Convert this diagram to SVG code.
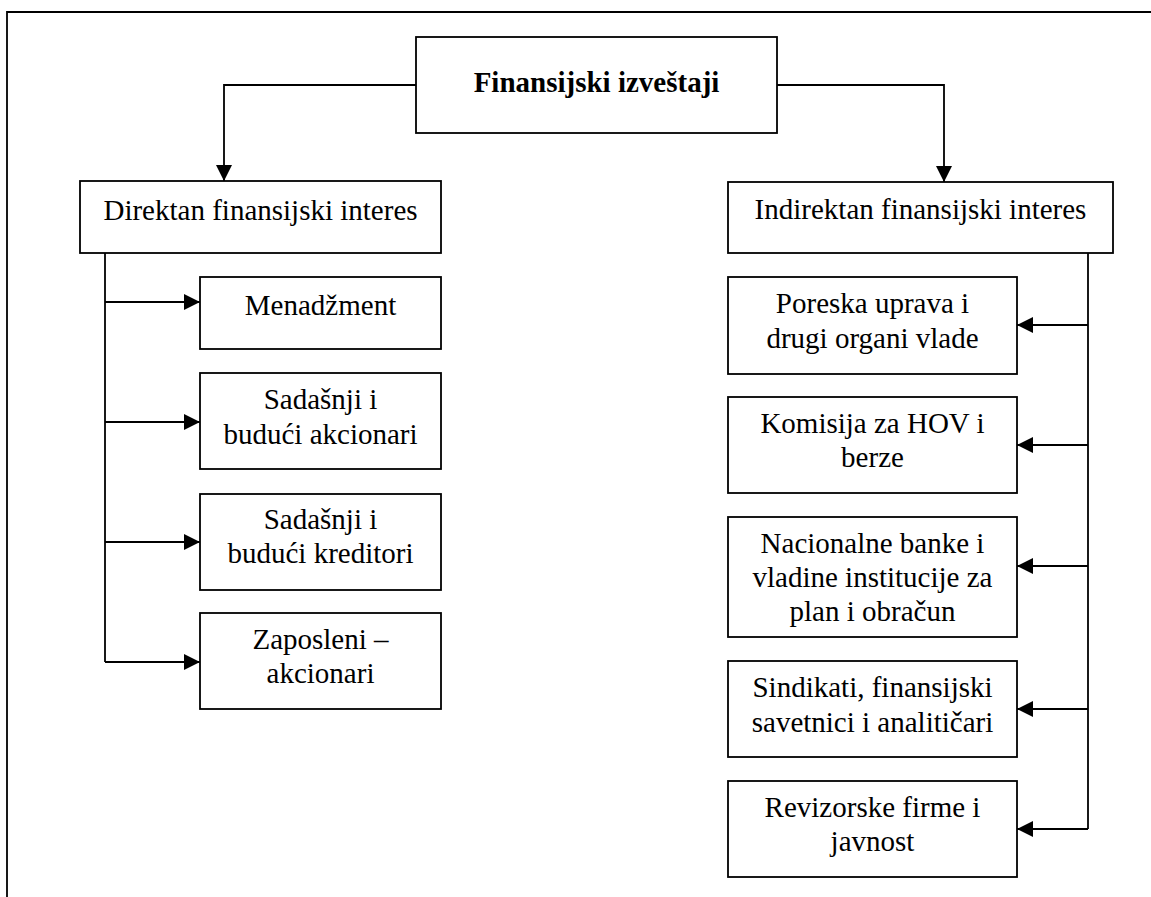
<svg xmlns="http://www.w3.org/2000/svg" width="1151" height="897" viewBox="0 0 1151 897">
<style>
.box{fill:#fff;stroke:#000;stroke-width:1.8}
.ln{fill:none;stroke:#000;stroke-width:1.8}
text{font-family:"Liberation Serif","Times New Roman",serif;font-size:29px;fill:#000;text-anchor:middle}
.b{font-weight:bold}
</style>
<defs>
<marker id="ah" markerUnits="userSpaceOnUse" markerWidth="17" markerHeight="16" refX="16" refY="8" orient="auto">
<path d="M0,0 L16,8 L0,16 Z" fill="#000"/>
</marker>
</defs>
<rect width="1151" height="897" fill="#fff"/>
<g id="frame">
<path class="ln" d="M7,897 V12 H1151"/>
</g>
<g id="connectors">
<path class="ln" d="M416,85 H224 V181" marker-end="url(#ah)"/>
<path class="ln" d="M777,85 H944 V182" marker-end="url(#ah)"/>
<path class="ln" d="M105,253 V662"/>
<path class="ln" d="M105,302 H200" marker-end="url(#ah)"/>
<path class="ln" d="M105,422 H200" marker-end="url(#ah)"/>
<path class="ln" d="M105,542 H200" marker-end="url(#ah)"/>
<path class="ln" d="M105,662 H200" marker-end="url(#ah)"/>
<path class="ln" d="M1088,253 V829"/>
<path class="ln" d="M1088,325 H1017" marker-end="url(#ah)"/>
<path class="ln" d="M1088,445 H1017" marker-end="url(#ah)"/>
<path class="ln" d="M1088,566 H1017" marker-end="url(#ah)"/>
<path class="ln" d="M1088,709 H1017" marker-end="url(#ah)"/>
<path class="ln" d="M1088,829 H1017" marker-end="url(#ah)"/>
</g>
<g id="root">
<rect class="box" x="416" y="37" width="361" height="96"/>
<text class="b" x="596.5" y="92">Finansijski izveštaji</text>
</g>
<g id="direktan">
<rect class="box" x="80" y="181" width="361" height="72"/>
<text x="260.5" y="220">Direktan finansijski interes</text>
</g>
<g id="indirektan">
<rect class="box" x="728" y="182" width="385" height="71"/>
<text x="920.5" y="219">Indirektan finansijski interes</text>
</g>
<g id="menadzment">
<rect class="box" x="200" y="277" width="241" height="72"/>
<text x="320.5" y="315">Menadžment</text>
</g>
<g id="akcionari">
<rect class="box" x="200" y="373" width="241" height="96"/>
<text x="320.5" y="409">Sadašnji i</text>
<text x="320.5" y="444">budući akcionari</text>
</g>
<g id="kreditori">
<rect class="box" x="200" y="494" width="241" height="96"/>
<text x="320.5" y="529">Sadašnji i</text>
<text x="320.5" y="563">budući kreditori</text>
</g>
<g id="zaposleni">
<rect class="box" x="200" y="613" width="241" height="96"/>
<text x="320.5" y="649">Zaposleni –</text>
<text x="320.5" y="683">akcionari</text>
</g>
<g id="poreska">
<rect class="box" x="728" y="277" width="289" height="97"/>
<text x="872.5" y="313">Poreska uprava i</text>
<text x="872.5" y="348">drugi organi vlade</text>
</g>
<g id="komisija">
<rect class="box" x="728" y="397" width="289" height="96"/>
<text x="872.5" y="433">Komisija za HOV i</text>
<text x="872.5" y="467">berze</text>
</g>
<g id="nacionalne">
<rect class="box" x="728" y="517" width="289" height="120"/>
<text x="872.5" y="553">Nacionalne banke i</text>
<text x="872.5" y="587">vladine institucije za</text>
<text x="872.5" y="621">plan i obračun</text>
</g>
<g id="sindikati">
<rect class="box" x="728" y="661" width="289" height="96"/>
<text x="872.5" y="697">Sindikati, finansijski</text>
<text x="872.5" y="732">savetnici i analitičari</text>
</g>
<g id="revizorske">
<rect class="box" x="728" y="781" width="289" height="96"/>
<text x="872.5" y="817">Revizorske firme i</text>
<text x="872.5" y="851">javnost</text>
</g>
</svg>
